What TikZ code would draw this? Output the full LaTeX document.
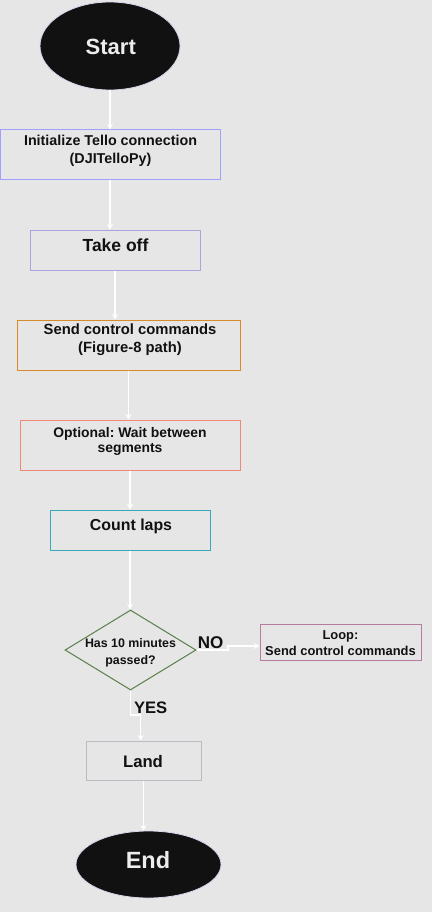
\documentclass[tikz,border=0pt]{standalone}
\usepackage{fontspec}
\setmainfont{Liberation Sans}
\usetikzlibrary{shapes.geometric,arrows.meta}
\frenchspacing
\definecolor{bg}{HTML}{E6E6E6}
\definecolor{ink}{HTML}{111111}
\definecolor{cInit}{HTML}{A0A0FF}
\definecolor{cTake}{HTML}{A8A4E0}
\definecolor{cSend}{HTML}{D98B2B}
\definecolor{cOpt}{HTML}{F08878}
\definecolor{cCount}{HTML}{3AA8B8}
\definecolor{cDec}{HTML}{5A7F4A}
\definecolor{cLoop}{HTML}{B47CA0}
\definecolor{cLand}{HTML}{BBBBC4}
\definecolor{cEdge}{HTML}{D8D8F0}
\newcommand{\fs}[2]{\fontsize{#1}{#2}\selectfont}
\begin{document}
\begin{tikzpicture}[x=1pt,y=-1pt,
  box/.style={draw, line width=1pt, rectangle, inner sep=0pt},
  term/.style={ellipse, fill=ink, draw=cEdge, line width=0.8pt, inner sep=0pt},
  txt/.style={text=ink, font=\bfseries, inner sep=0pt, align=center},
  ttxt/.style={text=white!93!black, inner sep=0pt},
  flow/.style={draw=white, line width=1.1pt, -{Stealth[length=5.5pt,width=6pt]}}]
\fill[bg] (0,0) rectangle (432,912);
\useasboundingbox (0,0) rectangle (432,912);

% shapes
\node[term, minimum width=140pt, minimum height=88pt] (start) at (110,46) {};
\node[box, draw=cInit, minimum width=220pt, minimum height=50pt] (init) at (110,155) {};
\node[box, draw=cTake, minimum width=170pt, minimum height=40pt] (take) at (115,250) {};
\node[box, draw=cSend, minimum width=223pt, minimum height=50pt] (send) at (128.5,345) {};
\node[box, draw=cOpt, minimum width=220pt, minimum height=50pt] (opt) at (130,445) {};
\node[box, draw=cCount, minimum width=160pt, minimum height=40pt] (count) at (130,530) {};
\node[diamond, draw=cDec, line width=1pt, minimum width=131pt, minimum height=80pt, inner sep=0pt] (dec) at (130.5,650) {};
\node[box, draw=cLoop, minimum width=161pt, minimum height=36pt] (loop) at (340.5,642) {};
\node[box, draw=cLand, minimum width=115pt, minimum height=39pt] (land) at (143.5,760.5) {};
\node[term, minimum width=145pt, minimum height=67pt] (end) at (148.5,864.5) {};

% texts
\node[ttxt, anchor=base, font=\bfseries\fs{22}{26}] (startT) at (110.8,55) {Start};
\node[txt, font=\bfseries\fs{14.3}{17.5}] (initT) at (110.5,151) {Initialize Tello connection\\(DJITelloPy)};
\node[txt, anchor=base, font=\bfseries\fs{17.5}{20}] (takeT) at (115.5,251) {Take off};
\node[txt, font=\bfseries\fs{14.8}{18}] (sendT) at (130,340.2) {Send control commands\\(Figure-8 path)};
\node[txt, font=\bfseries\fs{13.9}{15}] (optT) at (130,441) {Optional: Wait between\\segments};
\node[txt, anchor=base, font=\bfseries\fs{15.9}{19}] (countT) at (131,530) {Count laps};
\node[txt, font=\bfseries\fs{12.4}{17}] (decT) at (130.5,652.3) {Has 10 minutes\\passed?};
\node[txt, font=\bfseries\fs{12.9}{16}] (loopT) at (340.5,643.3) {Loop:\\Send control commands};
\node[txt, anchor=base, font=\bfseries\fs{17}{20}] (noT) at (210.5,648) {NO};
\node[txt, anchor=base, font=\bfseries\fs{16.6}{20}] (yesT) at (150.7,713) {YES};
\node[txt, anchor=base, font=\bfseries\fs{16.7}{20}] (landT) at (143,767) {Land};
\node[ttxt, anchor=base, font=\bfseries\fs{23.5}{28}] (endT) at (148,868) {End};

% connectors
\draw[flow] (start.south) -- (init.north);
\draw[flow] (init.south) -- (init.south |- take.north);
\draw[flow] (take.south) -- (take.south |- send.north);
\draw[flow] (send.south) -- (send.south |- opt.north);
\draw[flow] (opt.south) -- (opt.south |- count.north);
\draw[flow] (count.south) -- (count.south |- dec.north);
\coordinate (noA) at (228,650);
\coordinate (noB) at (228,646);
\draw[flow] (dec.east) -- (noA) -- (noB) -- (noB -| loop.west);
\coordinate (yesA) at (130.5,715);
\coordinate (yesB) at (140.7,715);
\draw[flow] (dec.south) -- (yesA) -- (yesB) -- (yesB |- land.north);
\draw[flow] (land.south) -- (land.south |- end.north);
\end{tikzpicture}
\end{document}
